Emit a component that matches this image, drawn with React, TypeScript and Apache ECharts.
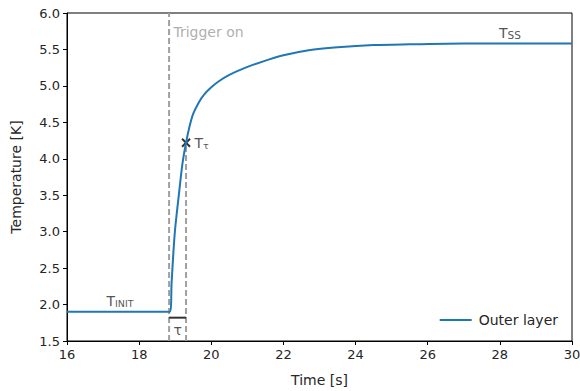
import React, { useEffect, useRef } from "react";
import * as echarts from "echarts";

// Outer layer temperature curve (time [s], temperature [K])
const timeValues = [16, 18.85, 18.9, 18.95, 19.0, 19.1, 19.2, 19.3, 19.4, 19.5, 19.65, 19.8, 20.0, 20.2, 20.5, 20.9, 21.4, 22.0, 22.7, 23.5, 24.5, 25.5, 27, 30];
const tempValues = [1.9, 1.9, 2.3, 2.72, 3.05, 3.5, 3.93, 4.22, 4.45, 4.62, 4.77, 4.88, 4.98, 5.06, 5.15, 5.24, 5.33, 5.42, 5.49, 5.53, 5.56, 5.57, 5.58, 5.58];

const xTicks = [16, 30, 2];
const yTicks = [1.5, 6.0, 0.5];

const triggerTime = 18.83;
const tauTime = 19.3;
const tauTemp = 4.22;
const tauBarTemp = 1.82;

// annotation anchors [x, y]
const triggerLabelPos = [18.95, 5.74];
const tInitLabelPos = [17.47, 2.05];
const tSsLabelPos = [28.28, 5.73];
const tauLabelPos = [19.07, 1.65];

const FONT = "DejaVu Sans";
const TXT = "#262626";

export default function App() {
  const ref = useRef<HTMLDivElement>(null);
  useEffect(() => {
    if (!ref.current) return;
    const chart = echarts.init(ref.current, undefined, { renderer: "svg" });
    const curve = timeValues.map((t, i) => [t, tempValues[i]]);
    const sub = { fontSize: 9.5, fontFamily: FONT, color: TXT, padding: [5, 0, 0, 0] };
    const main = { fontSize: 14, fontFamily: FONT, color: TXT };
    chart.setOption({
      animation: false,
      grid: { left: 67, right: 8, top: 13, bottom: 50, show: true, borderColor: "#000", borderWidth: 1, containLabel: false, outerBoundsMode: "none" },
      xAxis: {
        type: "value",
        min: xTicks[0],
        max: xTicks[1],
        interval: xTicks[2],
        name: "Time [s]",
        nameLocation: "middle",
        nameGap: 32,
        nameTextStyle: { fontFamily: FONT, fontSize: 14, color: TXT },
        axisLine: { lineStyle: { color: "#000" } },
        axisTick: { show: true, length: 4, lineStyle: { color: "#000" } },
        axisLabel: { fontFamily: FONT, fontSize: 13, color: TXT, margin: 7 },
        splitLine: { show: false },
      },
      yAxis: {
        type: "value",
        min: yTicks[0],
        max: yTicks[1],
        interval: yTicks[2],
        name: "Temperature [K]",
        nameLocation: "middle",
        nameGap: 44,
        nameTextStyle: { fontFamily: FONT, fontSize: 14, color: TXT },
        axisLine: { show: true, lineStyle: { color: "#000" } },
        axisTick: { show: true, length: 4, lineStyle: { color: "#000" } },
        axisLabel: { fontFamily: FONT, fontSize: 13, color: TXT, margin: 7, formatter: (v: number) => v.toFixed(1) },
        splitLine: { show: false },
      },
      legend: {
        data: ["Outer layer"],
        right: 17,
        bottom: 59,
        icon: "rect",
        itemWidth: 32,
        itemHeight: 2,
        itemGap: 10,
        textStyle: { fontFamily: FONT, fontSize: 14, color: TXT, padding: [0, 0, 0, 2] },
      },
      series: [
        {
          name: "trigger",
          type: "line",
          data: [[triggerTime, yTicks[0]], [triggerTime, yTicks[1]]],
          symbol: "none",
          lineStyle: { color: "#a0a0a0", width: 2, type: [6, 3] },
          silent: true,
        },
        {
          name: "tauLine",
          type: "line",
          data: [[tauTime, yTicks[0]], [tauTime, tauTemp]],
          symbol: "none",
          lineStyle: { color: "#a0a0a0", width: 2, type: [6, 3] },
          silent: true,
        },
        {
          name: "Outer layer",
          type: "line",
          data: curve,
          symbol: "none",
          smooth: 0.3,
          lineStyle: { color: "#1f77b4", width: 2 },
          itemStyle: { color: "#1f77b4" },
        },
        {
          name: "tauBar",
          type: "line",
          data: [[triggerTime, tauBarTemp], [tauTime, tauBarTemp]],
          symbol: "none",
          lineStyle: { color: "#333", width: 2 },
          silent: true,
        },
        {
          name: "tauPoint",
          type: "scatter",
          data: [[tauTime, tauTemp]],
          symbol: "path://M0,0L10,10M10,0L0,10",
          symbolSize: 8,
          itemStyle: { color: "none", borderColor: "#000", borderWidth: 2 },
          label: {
            show: true,
            position: "right",
            distance: 2,
            formatter: "{m|T}{s|τ}",
            rich: { m: main, s: sub },
          },
          silent: true,
        },
        {
          name: "labels",
          type: "scatter",
          symbolSize: 0,
          silent: true,
          data: [
            { value: triggerLabelPos, label: { show: true, position: "inside", align: "left", formatter: "Trigger on", color: "#999", fontFamily: FONT, fontSize: 14 } },
            { value: tInitLabelPos, label: { show: true, position: "inside", formatter: "{m|T}{s|INIT}", rich: { m: main, s: sub } } },
            { value: tSsLabelPos, label: { show: true, position: "inside", formatter: "{m|T}{s|SS}", rich: { m: main, s: { ...sub, fontSize: 10.5 } } } },
            { value: tauLabelPos, label: { show: true, position: "inside", formatter: "τ", color: TXT, fontFamily: FONT, fontSize: 14 } },
          ],
        },
      ],
    });
    return () => chart.dispose();
  }, []);
  return <div ref={ref} style={{ width: 580, height: 391, position: "absolute", left: 0, top: 0 }} />;
}
